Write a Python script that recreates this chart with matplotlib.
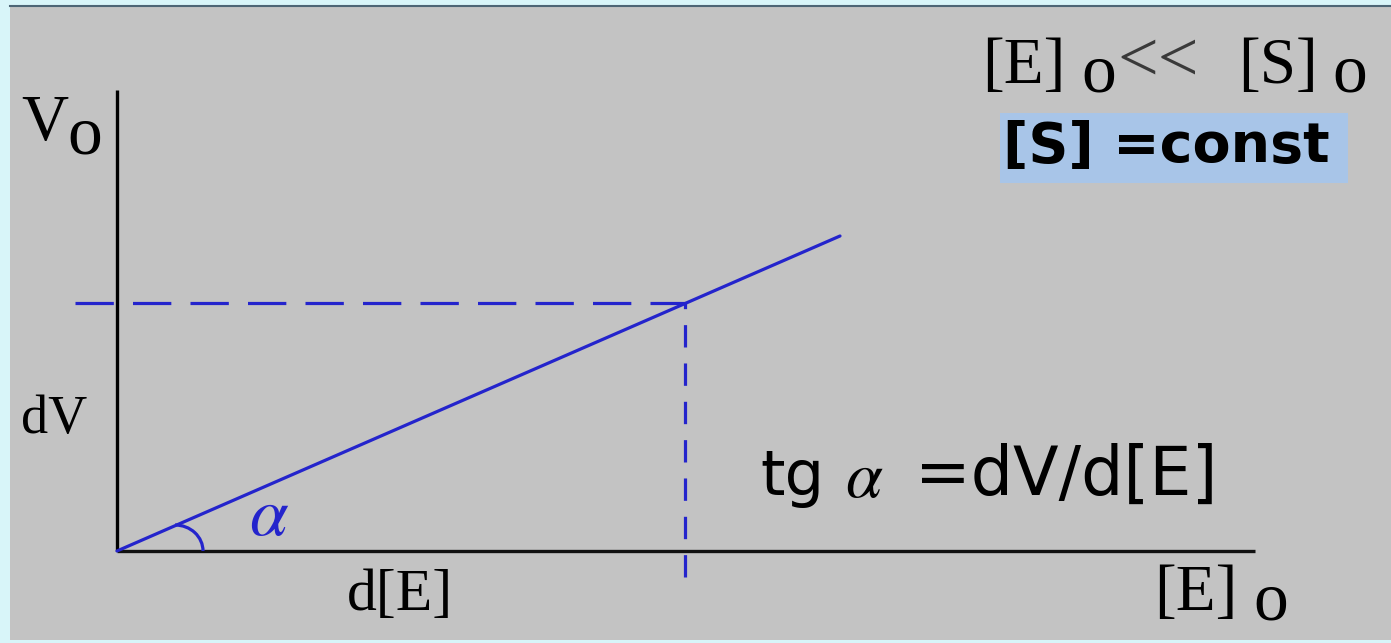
import matplotlib
matplotlib.use("Agg")
import matplotlib.pyplot as plt
from matplotlib.patches import Arc, Rectangle

# rate vs enzyme concentration, units: 1 = 100 px on the sheet
e_line = [0.0, 7.23]
v_line = [0.0, 3.15]
e_mark = 5.68
v_mark = 2.48
axis_top = 4.61
axis_right = 11.38

blue = "#2424cc"
gray = "#c3c3c3"
serif = "Liberation Serif"
sans = "DejaVu Sans"

fig = plt.figure(figsize=(13.91, 6.43), dpi=100, facecolor="#d8f5f9")
ax = fig.add_axes([10 / 1391, 3 / 643, 1381 / 1391, 634 / 643])
ax.set_facecolor(gray)
ax.set_xlim(-1.07, 12.74)
ax.set_ylim(-0.89, 5.45)
ax.set_xticks([])
ax.set_yticks([])
for side in ["left", "right", "bottom"]:
    ax.spines[side].set_visible(False)
ax.spines["top"].set_color("#4d6575")
ax.spines["top"].set_linewidth(1.5)

# axes of the diagram
ax.plot([0, 0], [0, axis_top], color="black", lw=2.4, solid_capstyle="butt", zorder=3)
ax.plot([0, axis_right], [0, 0], color="#111111", lw=2.4, solid_capstyle="butt", zorder=3)

# straight line and its projections
ax.plot(e_line, v_line, color=blue, lw=2.3, solid_capstyle="round", zorder=4)
ax.plot([-0.42, e_mark], [v_mark, v_mark], color=blue, lw=2.3,
        linestyle=(0, (12, 6)), zorder=4)
ax.plot([e_mark, e_mark], [-0.26, v_mark], color=blue, lw=2.3,
        linestyle=(0, (7, 5)), zorder=4)

# angle mark
ax.add_patch(Arc((0.58, 0.0), 0.56, 0.52, theta1=0, theta2=90,
                 color=blue, lw=2.3, zorder=4))
ax.text(1.32, 0.16, r"$\alpha$", color=blue, fontsize=50,
        math_fontfamily="stix", va="baseline", ha="left")

# axis labels
ax.text(-0.96, 4.11, "V", fontsize=47, family=serif, va="baseline")
ax.text(-0.50, 3.98, "o", fontsize=50, family=serif, va="baseline")
ax.text(-0.96, 1.18, "dV", fontsize=39, family=serif, va="baseline")
ax.text(2.30, -0.59, "d[E]", fontsize=43, family=serif, va="baseline")
ax.text(10.37, -0.59, "[E]", fontsize=47, family=serif, va="baseline")
ax.text(11.36, -0.69, "o", fontsize=50, family=serif, va="baseline")

# conditions in the upper right corner
ax.text(8.65, 4.68, "[E]", fontsize=47, family=serif, va="baseline")
ax.text(9.64, 4.59, "o", fontsize=50, family=serif, va="baseline")
ax.text(10.00, 4.70, "<<", fontsize=52, family=serif, va="baseline",
        color="#3a3a3a")
ax.text(11.21, 4.68, "[S]", fontsize=47, family=serif, va="baseline")
ax.text(12.15, 4.59, "o", fontsize=50, family=serif, va="baseline")

ax.add_patch(Rectangle((8.83, 3.68), 3.48, 0.70, facecolor="#a8c5e8",
                       edgecolor="none", zorder=2))
ax.text(8.86, 3.89, "[S] =const", fontsize=40, family=sans, weight="bold",
        va="baseline", zorder=3)

# slope relation
ax.text(6.43, 0.56, "tg", fontsize=45, family=sans, va="baseline")
ax.text(7.28, 0.54, r"$\alpha$", fontsize=48, math_fontfamily="stix", va="baseline")
ax.text(7.98, 0.56, "=dV/d[E]", fontsize=48, family=sans, va="baseline")

fig.savefig("out.png", dpi=100, facecolor=fig.get_facecolor())
